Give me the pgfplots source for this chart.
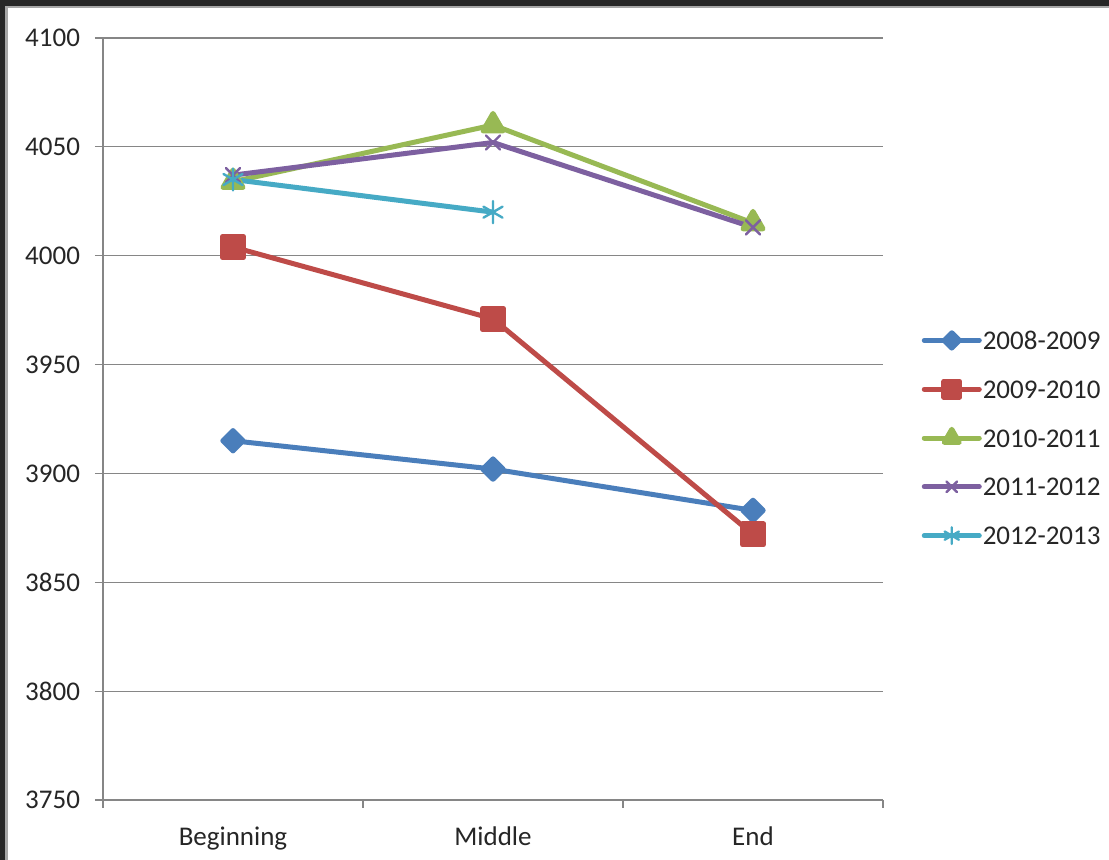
\documentclass[border=0pt]{standalone}
\usepackage{pgfplots}
\pgfplotsset{compat=1.18}
\usepackage{fontspec}
\setmainfont{Carlito}

\definecolor{sA}{HTML}{4A7EBB}
\definecolor{sB}{HTML}{BE4B48}
\definecolor{sC}{HTML}{98B954}
\definecolor{sD}{HTML}{7D60A0}
\definecolor{sE}{HTML}{46AAC5}
\definecolor{axisgray}{HTML}{868686}
\definecolor{framedark}{HTML}{262626}
\definecolor{labeltext}{HTML}{262626}

\newcommand{\chartfont}{\fontsize{13.5pt}{16pt}\selectfont}

\begin{document}
\begin{tikzpicture}
% window frame behind the chart area
\useasboundingbox (0,0) rectangle (554.5pt,430pt);
\fill[framedark] (0,0) rectangle (554.5pt,430pt);
\fill[gray!70] (2.7pt,0) rectangle (554.5pt,427pt);
\fill[white] (4pt,0) rectangle (554.5pt,426pt);

\begin{axis}[
  at={(51.5pt,30pt)}, anchor=south west,
  scale only axis, width=390pt, height=381pt,
  xmin=-0.5, xmax=2.5, ymin=3750, ymax=4100,
  ytick={3750,3800,...,4100},
  xtick={0,1,2}, xticklabels={Beginning,Middle,End},
  minor xtick={-0.5,0.5,1.5,2.5},
  axis lines*=left,
  axis line style={color=axisgray, line width=0.6pt},
  ymajorgrids,
  major grid style={color=axisgray, line width=0.6pt},
  tick align=outside,
  major tick length=4pt, minor tick length=4pt,
  major x tick style={draw=none},
  minor x tick style={color=axisgray, line width=0.6pt},
  y tick style={color=axisgray, line width=0.6pt},
  tick label style={font=\chartfont, text=labeltext},
  /pgf/number format/assume math mode=true,
  y tick label style={/pgf/number format/1000 sep={}, xshift=-4pt},
  x tick label style={yshift=-6pt},
  legend cell align=left,
  legend style={at={(1.0415,0.475)}, anchor=west, draw=none, fill=none,
    font=\chartfont, text=labeltext, row sep=15.4pt,
    nodes={inner xsep=0.5pt, inner ysep=0pt, text height=9pt, text depth=0pt}},
  legend image code/.code={%
    \draw[mark repeat=2,mark phase=2,#1,every mark/.append style={scale=0.75}]
      plot coordinates {(0pt,0pt) (13.75pt,0pt) (27.5pt,0pt)};},
  every axis plot/.append style={line width=2.5pt, line join=round, line cap=round},
]
\addplot[color=sA, mark=square*, mark size=3.6pt, mark options={rotate=45, solid}]
  coordinates {(0,3915) (1,3902) (2,3883)};
\addlegendentry{2008-2009}
\addplot[color=sB, mark=square*, mark size=5.2pt, mark options={solid}]
  coordinates {(0,4004) (1,3971) (2,3872)};
\addlegendentry{2009-2010}
\addplot[color=sC, mark=triangle*, mark size=5.8pt, mark options={solid}]
  coordinates {(0,4034) (1,4060) (2,4015)};
\addlegendentry{2010-2011}
\addplot[color=sD, mark=x, mark size=5pt, mark options={solid, line width=1.2pt}]
  coordinates {(0,4037) (1,4052) (2,4013)};
\addlegendentry{2011-2012}
\addplot[color=sE, mark=asterisk, mark size=5.5pt, mark options={solid, line width=1.2pt}]
  coordinates {(0,4035) (1,4020)};
\addlegendentry{2012-2013}
\end{axis}
\end{tikzpicture}
\end{document}
